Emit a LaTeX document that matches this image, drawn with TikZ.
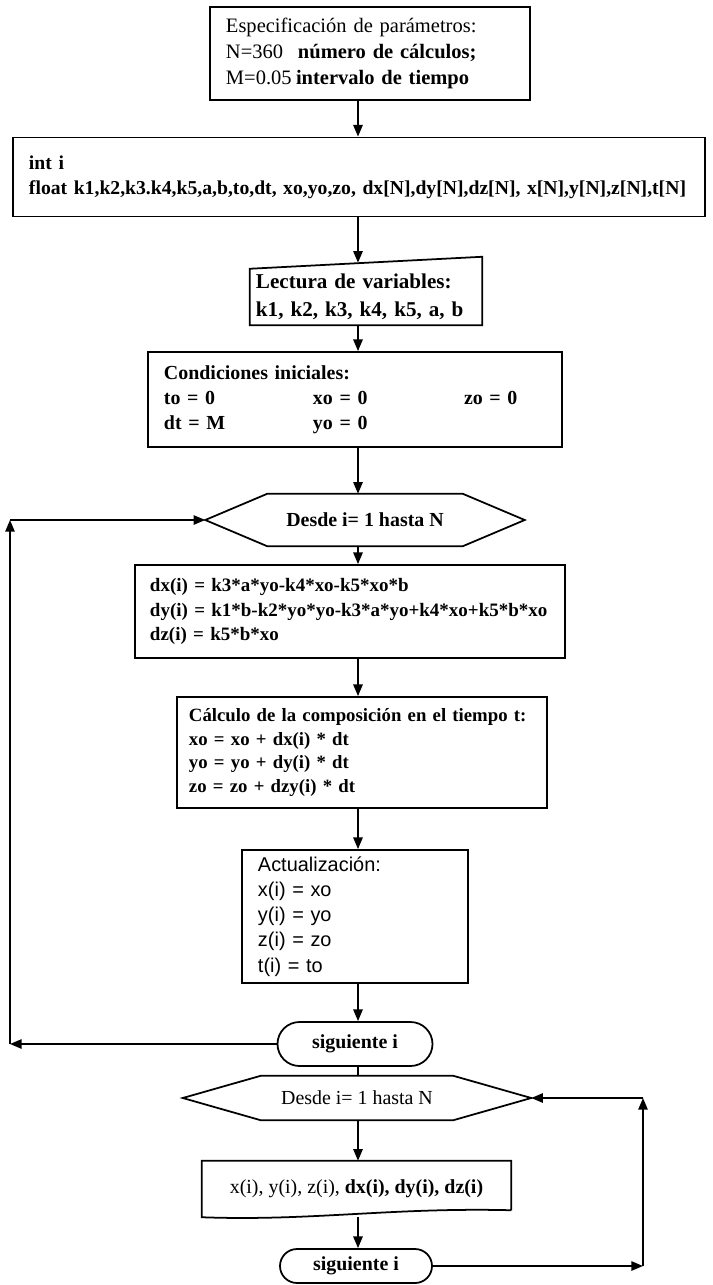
\documentclass[tikz,border=0pt]{standalone}
\usepackage{fontspec}
\setmainfont{Liberation Serif}
\newfontfamily\actfont{Liberation Sans}
\usetikzlibrary{arrows.meta,calc,positioning,shapes.misc}

% picture units are pixels of the page, 1px = 0.03cm
\newcommand{\px}[1]{\fpeval{#1*0.03}cm}

\tikzset{
  linea/.style={line width=1.5pt},
  flecha/.style={linea,-{Triangle[length=10pt,width=8pt]}},
  caja/.style={draw,linea,rectangle,inner xsep=\px{16},inner ysep=0pt,align=left},
  hueco/.style={rectangle,inner sep=0pt,align=center},
  fin/.style={draw,linea,rounded rectangle,inner sep=0pt,font=\bfseries}
}

\begin{document}
\begin{tikzpicture}[x=0.03cm,y=-0.03cm]
\useasboundingbox (0,0) rectangle (713,1285);
{\fontsize{17}{21.5}\selectfont

% Axis of the main flow and the two loop sides
\coordinate (eje) at (358,0);
\coordinate (izq) at (10,0);
\coordinate (der) at (643,0);

% Parameter box
\node[caja,minimum width=\px{320},minimum height=\px{93},text width=\px{288},font=\fontsize{17.5}{22}\selectfont] (espec) at (370,53.5)
  {Especificación de parámetros:\\
   \makebox[\px{72}][l]{N=360}\textbf{número de cálculos;}\\
   \makebox[\px{70}][l]{M=0.05}\textbf{intervalo de tiempo}};

% Declarations
\node[caja,minimum width=\px{692},minimum height=\px{79},text width=\px{660},font=\bfseries\fontsize{16.8}{21.5}\selectfont] (decl) at (359,177)
  {int i\\
   \mbox{float k1,k2,k3.k4,k5,a,b,to,dt, xo,yo,zo, dx[N],dy[N],dz[N], x[N],y[N],z[N],t[N]}};

% Manual input: reading the variables
\node[hueco,minimum width=\px{232},minimum height=\px{56},text width=\px{220},align=left,
      font=\bfseries\fontsize{18}{24}\selectfont] (leer) at (366,297)
  {Lectura de variables:\\ k1, k2, k3, k4, k5, a, b};
\draw[linea] (leer.south west) -- (leer.north west) -- ($(leer.north east)+(0,-12)$) -- (leer.south east) -- cycle;
\coordinate (leer-top) at ($(leer.north)+(0,-6)$);

% Initial conditions
\node[caja,minimum width=\px{414},minimum height=\px{95},text width=\px{382},font=\bfseries] (cond) at (355,399.5)
  {Condiciones iniciales:\\
   \makebox[\px{149}][l]{to = 0}\makebox[\px{151}][l]{xo = 0}zo = 0\\
   \makebox[\px{149}][l]{dt = M}yo = 0};

% First loop header
\node[hueco,minimum width=\px{195},minimum height=\px{52},font=\bfseries] (desde) at (365,520) {Desde i= 1 hasta N};
\coordinate (desde-w) at ($(desde.west)+(-62,0)$);
\coordinate (desde-e) at ($(desde.east)+(62,0)$);
\draw[linea] (desde.north west) -- (desde.north east) -- (desde-e) -- (desde.south east)
  -- (desde.south west) -- (desde-w) -- cycle;

% Derivatives
\node[caja,minimum width=\px{430},minimum height=\px{93},text width=\px{400},inner xsep=\px{15},
      font=\bfseries\fontsize{16.2}{21}\selectfont] (deriv) at (350,611.5)
  {dx(i) = k3*a*yo-k4*xo-k5*xo*b\\
   \mbox{dy(i) = k1*b-k2*yo*yo-k3*a*yo+k4*xo+k5*b*xo}\\
   dz(i) = k5*b*xo};

% Integration step
\node[caja,minimum width=\px{370},minimum height=\px{111},text width=\px{346},inner xsep=\px{12},
      font=\bfseries\fontsize{16}{20}\selectfont] (calc) at (362,752.5)
  {Cálculo de la composición en el tiempo t:\\
   xo = xo + dx(i) * dt\\
   yo = yo + dy(i) * dt\\
   zo = zo + dzy(i) * dt};

% Update
\node[caja,minimum width=\px{226},minimum height=\px{133},text width=\px{194},font=\actfont] (act) at (355,916.5)
  {Actualización:\\ x(i) = xo\\ y(i) = yo\\ z(i) = zo\\ t(i) = to};

% End of first loop
\node[fin,minimum width=\px{155},minimum height=\px{44}] (sig1) at (355,1044) {siguiente i};

% Second loop header
\node[hueco,minimum width=\px{192},minimum height=\px{44}] (desde2) at (357,1098) {Desde i= 1 hasta N};
\coordinate (desde2-w) at ($(desde2.west)+(-78,0)$);
\coordinate (desde2-e) at ($(desde2.east)+(78,0)$);
\draw[linea] (desde2.north west) -- (desde2.north east) -- (desde2-e) -- (desde2.south east)
  -- (desde2.south west) -- (desde2-w) -- cycle;

% Printed output
\node[hueco,minimum width=\px{309},minimum height=\px{56}] (salida) at (356.5,1189)
  {x(i), y(i), z(i), \textbf{dx(i), dy(i), dz(i)}};
\draw[linea] ($(salida.south east)+(0,-7)$) -- (salida.north east) -- (salida.north west) -- (salida.south west)
  .. controls ($(salida.south west)+(110,4)$) and ($(salida.south east)+(-120,-10)$) .. ($(salida.south east)+(0,-7)$);

% End of second loop
\node[fin,minimum width=\px{152},minimum height=\px{34}] (sig2) at (356,1266) {siguiente i};

% Main flow
\draw[flecha] (eje |- espec.south) -- (eje |- decl.north);
\draw[flecha] (eje |- decl.south) -- (eje |- leer-top);
\draw[flecha] (eje |- leer.south) -- (eje |- cond.north);
\draw[flecha] (eje |- cond.south) -- (eje |- desde.north);
\draw[flecha] (eje |- desde.south) -- (eje |- deriv.north);
\draw[flecha] (eje |- deriv.south) -- (eje |- calc.north);
\draw[flecha] (eje |- calc.south) -- (eje |- act.north);
\draw[flecha] (eje |- act.south) -- (eje |- sig1.north);
\draw[linea] (eje |- sig1.south) -- (eje |- desde2.north);
\draw[flecha] (eje |- desde2.south) -- (eje |- salida.north);
\draw[flecha] (eje |- salida.south) -- (eje |- sig2.north);

% Loop back, left side
\draw[flecha] (sig1.west) -- (izq |- sig1.west);
\draw[flecha] (izq |- sig1.west) -- (izq |- desde-w);
\draw[flecha] (izq |- desde-w) -- (desde-w);

% Loop back, right side
\draw[flecha] (sig2.east) -- (der |- sig2.east);
\draw[flecha] (der |- sig2.east) -- (der |- desde2-e);
\draw[flecha] (der |- desde2-e) -- (desde2-e);
}
\end{tikzpicture}
\end{document}
